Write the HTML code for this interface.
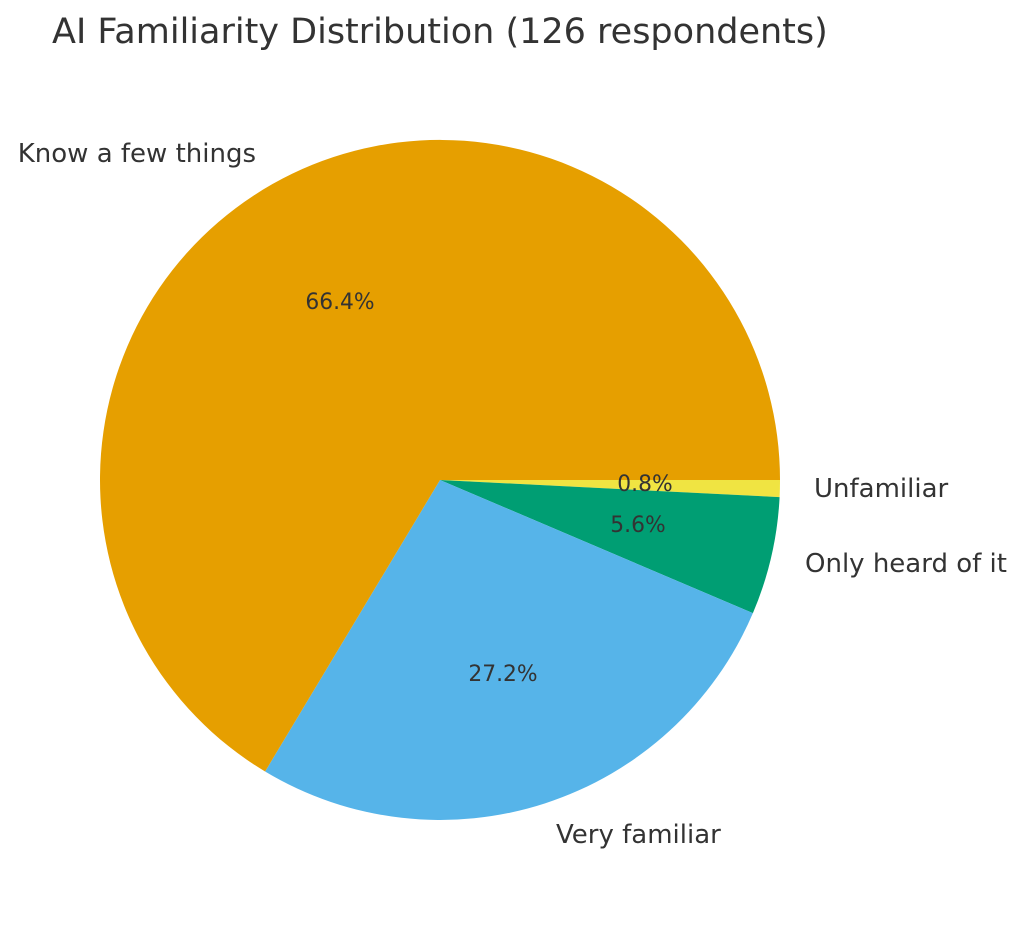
<!DOCTYPE html>
<html><head><meta charset="utf-8"><style>body{margin:0;background:#fff}</style></head>
<body>
<svg width="1024" height="920" xmlns="http://www.w3.org/2000/svg" font-family="DejaVu Sans, Liberation Sans, sans-serif" fill="#333">
<rect width="1024" height="920" fill="#fff"/>
<path d="M440,480 L780,480 A340,340 0 0,1 779.6,497.1 Z" fill="#F0E442"/>
<path d="M440,480 L779.6,497.1 A340,340 0 0,1 752.9,613.1 Z" fill="#009E73"/>
<path d="M440,480 L752.9,613.1 A340,340 0 0,1 265.1,771.5 Z" fill="#56B4E9"/>
<path d="M440,480 L265.1,771.5 A340,340 0 1,1 780,480 Z" fill="#E69F00"/>
<text x="52" y="43" font-size="35">AI Familiarity Distribution (126 respondents)</text>
<g font-size="26">
<text x="256" y="162" text-anchor="end">Know a few things</text>
<text x="814" y="497">Unfamiliar</text>
<text x="805" y="572">Only heard of it</text>
<text x="556" y="843">Very familiar</text>
</g>
<g font-size="21.8" text-anchor="middle">
<text x="340" y="309">66.4%</text>
<text x="645" y="491">0.8%</text>
<text x="638" y="532">5.6%</text>
<text x="503" y="681">27.2%</text>
</g>
</svg>
</body></html>
